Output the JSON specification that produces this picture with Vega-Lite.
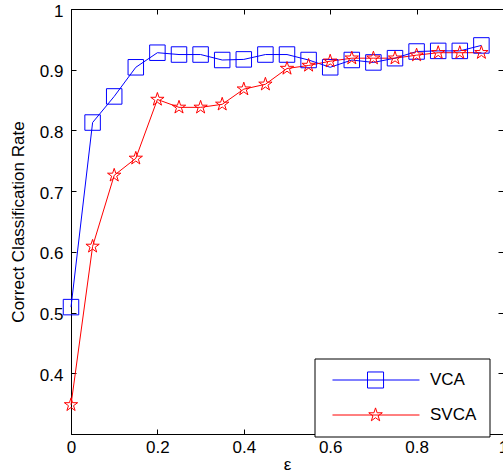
{
  "$schema": "https://vega.github.io/schema/vega-lite/v6.json",
  "width": 432,
  "height": 425,
  "autosize": {"type": "none"},
  "padding": {"left": 71, "top": 9, "right": 0, "bottom": 42},
  "background": "white",
  "config": {
    "view": {"stroke": "black", "strokeWidth": 1},
    "font": "Liberation Sans",
    "axis": {
      "grid": false,
      "domainColor": "black",
      "tickColor": "black",
      "labelColor": "black",
      "titleColor": "black",
      "labelFont": "Liberation Sans",
      "titleFont": "Liberation Sans",
      "labelFontSize": 17,
      "titleFontSize": 17,
      "titleFontWeight": "normal",
      "tickSize": -5,
      "labelFlush": false,
      "labelOverlap": false,
      "domainWidth": 1,
      "tickWidth": 1
    }
  },
  "data": {
    "values": [
      {"eps": 0.00, "method": "VCA", "rate": 0.509},
      {"eps": 0.05, "method": "VCA", "rate": 0.813},
      {"eps": 0.10, "method": "VCA", "rate": 0.856},
      {"eps": 0.15, "method": "VCA", "rate": 0.904},
      {"eps": 0.20, "method": "VCA", "rate": 0.928},
      {"eps": 0.25, "method": "VCA", "rate": 0.925},
      {"eps": 0.30, "method": "VCA", "rate": 0.925},
      {"eps": 0.35, "method": "VCA", "rate": 0.916},
      {"eps": 0.40, "method": "VCA", "rate": 0.917},
      {"eps": 0.45, "method": "VCA", "rate": 0.925},
      {"eps": 0.50, "method": "VCA", "rate": 0.925},
      {"eps": 0.55, "method": "VCA", "rate": 0.916},
      {"eps": 0.60, "method": "VCA", "rate": 0.904},
      {"eps": 0.65, "method": "VCA", "rate": 0.916},
      {"eps": 0.70, "method": "VCA", "rate": 0.912},
      {"eps": 0.75, "method": "VCA", "rate": 0.919},
      {"eps": 0.80, "method": "VCA", "rate": 0.930},
      {"eps": 0.85, "method": "VCA", "rate": 0.931},
      {"eps": 0.90, "method": "VCA", "rate": 0.931},
      {"eps": 0.95, "method": "VCA", "rate": 0.940},
      {"eps": 0.00, "method": "SVCA", "rate": 0.348},
      {"eps": 0.05, "method": "SVCA", "rate": 0.609},
      {"eps": 0.10, "method": "SVCA", "rate": 0.726},
      {"eps": 0.15, "method": "SVCA", "rate": 0.754},
      {"eps": 0.20, "method": "SVCA", "rate": 0.851},
      {"eps": 0.25, "method": "SVCA", "rate": 0.838},
      {"eps": 0.30, "method": "SVCA", "rate": 0.838},
      {"eps": 0.35, "method": "SVCA", "rate": 0.843},
      {"eps": 0.40, "method": "SVCA", "rate": 0.868},
      {"eps": 0.45, "method": "SVCA", "rate": 0.876},
      {"eps": 0.50, "method": "SVCA", "rate": 0.902},
      {"eps": 0.55, "method": "SVCA", "rate": 0.907},
      {"eps": 0.60, "method": "SVCA", "rate": 0.914},
      {"eps": 0.65, "method": "SVCA", "rate": 0.919},
      {"eps": 0.70, "method": "SVCA", "rate": 0.919},
      {"eps": 0.75, "method": "SVCA", "rate": 0.919},
      {"eps": 0.80, "method": "SVCA", "rate": 0.924},
      {"eps": 0.85, "method": "SVCA", "rate": 0.928},
      {"eps": 0.90, "method": "SVCA", "rate": 0.928},
      {"eps": 0.95, "method": "SVCA", "rate": 0.928}
    ]
  },
  "layer": [
    {
      "mark": {"type": "line", "strokeWidth": 1},
      "encoding": {
        "x": {
          "field": "eps", "type": "quantitative",
          "scale": {"domain": [0, 1], "nice": false, "zero": false},
          "axis": {"orient": "bottom", "values": [0, 0.2, 0.4, 0.6, 0.8, 1], "format": "~g", "labelPadding": 10, "title": "ε", "titlePadding": 1}
        },
        "y": {
          "field": "rate", "type": "quantitative",
          "scale": {"domain": [0.3, 1], "nice": false, "zero": false},
          "axis": {"orient": "left", "values": [0.4, 0.5, 0.6, 0.7, 0.8, 0.9, 1], "format": "~g", "labelPadding": 13, "labelOffset": 2, "title": "Correct Classification Rate", "titlePadding": 12}
        },
        "color": {
          "field": "method", "type": "nominal",
          "scale": {"domain": ["VCA", "SVCA"], "range": ["#0000ff", "#ff0000"]},
          "legend": {
            "orient": "none",
            "legendX": 243.5,
            "legendY": 349.5,
            "title": null,
            "padding": 13,
            "strokeColor": "black",
            "fillColor": "white",
            "labelFont": "Liberation Sans",
            "labelFontSize": 17,
            "labelColor": "black",
            "symbolSize": 225,
            "symbolStrokeWidth": 1,
            "labelOffset": 85.5,
            "rowPadding": 15,
            "labelExpr": "datum.label + '\u00a0\u00a0'",
            "encode": {
              "symbols": {
                "update": {
                  "shape": {"signal": "datum.value === 'VCA' ? 'M-0.47,0H11.13M4.2,-1.07H6.34V1.07H4.2Z' : 'M-0.47,0H11.13M5.27,-0.95L5.483,-0.294L6.173,-0.294L5.615,0.112L5.829,0.769L5.27,0.363L4.711,0.769L4.925,0.112L4.367,-0.294L5.057,-0.294Z'"},
                  "fill": {"value": "transparent"},
                  "strokeWidth": {"value": 1}
                }
              }
            }
          }
        }
      }
    },
    {
      "transform": [{"filter": "datum.method === 'VCA'"}],
      "mark": {"type": "point", "shape": "square", "size": 240, "filled": false, "stroke": "#0000ff", "strokeWidth": 1, "opacity": 1},
      "encoding": {
        "x": {"field": "eps", "type": "quantitative", "axis": {"orient": "top", "values": [0, 0.2, 0.4, 0.6, 0.8, 1], "labels": false, "domain": false, "title": null}},
        "y": {"field": "rate", "type": "quantitative", "axis": {"orient": "right", "values": [0.4, 0.5, 0.6, 0.7, 0.8, 0.9, 1], "labels": false, "domain": false, "title": null}}
      }
    },
    {
      "transform": [{"filter": "datum.method === 'SVCA'"}],
      "mark": {"type": "point", "shape": "M0,-1L0.2245,-0.309L0.951,-0.309L0.363,0.118L0.588,0.809L0,0.382L-0.588,0.809L-0.363,0.118L-0.951,-0.309L-0.2245,-0.309Z", "size": 196, "filled": false, "stroke": "#ff0000", "strokeWidth": 1, "opacity": 1},
      "encoding": {
        "x": {"field": "eps", "type": "quantitative", "axis": null},
        "y": {"field": "rate", "type": "quantitative", "axis": null}
      }
    }
  ],
  "resolve": {"axis": {"x": "independent", "y": "independent"}}
}
